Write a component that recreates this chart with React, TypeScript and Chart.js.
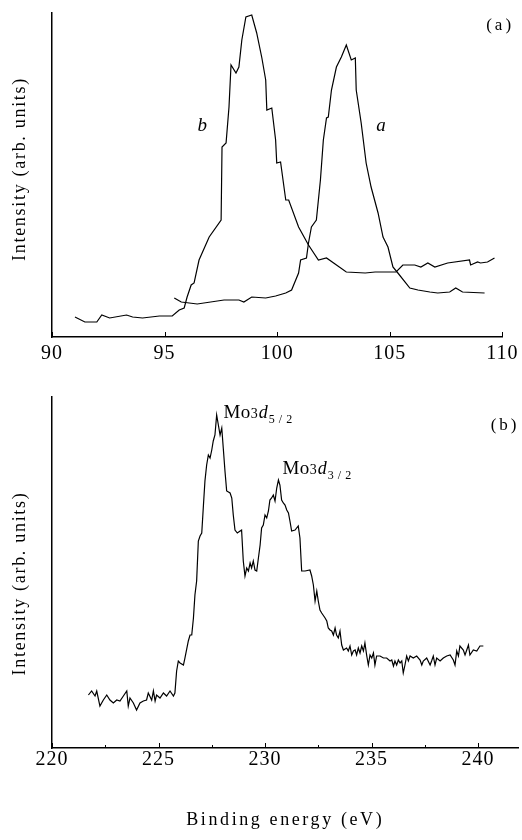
import { useEffect, useRef } from "react";
import { Chart, registerables } from "chart.js";

Chart.register(...registerables);

const SERIF = '"Liberation Serif", "Times New Roman", serif';

// ---- Panel (a): tick labels ----
const topTicks = [90, 95, 100, 105, 110];
// ---- Panel (b): tick labels ----
const bottomTicks = [220, 225, 230, 235, 240];
const bottomMinorTicks = [222.5, 227.5, 232.5, 237.5];

// ---- axis titles ----
const yTitle = "Intensity (arb. units)";
const xTitle = "Binding energy (eV)";

// ---- Panel (a), curve a ----
const curveAEnergy = [
  95.43, 95.74, 96.45, 97.64, 98.3, 98.52, 98.87, 99.49, 99.93, 100.38, 100.64, 100.95, 101.04, 101.3,
  101.39, 101.52, 101.74, 101.92, 102.05, 102.19, 102.27, 102.41, 102.63, 102.85, 103.07, 103.29, 103.47,
  103.51, 103.73, 103.95, 104.17, 104.48, 104.7, 104.92, 105.14, 105.36, 105.89, 106.25, 106.78, 107.13,
  107.66, 107.93, 108.23, 109.21,
];
const curveAIntensity = [
  39, 35, 33, 37, 37, 35, 40, 39, 41, 44, 47, 64, 77, 79,
  94, 110, 117, 157, 197, 219, 220, 247, 270, 280, 292, 277, 279,
  247, 214, 174, 150, 124, 100, 90, 70, 64, 49, 47, 45, 44,
  45, 49, 45, 44,
];

// ---- Panel (a), curve b ----
const curveBEnergy = [
  91.02, 91.46, 91.99, 92.21, 92.56, 93.31, 93.58, 94.02, 94.77, 95.34, 95.65, 95.87, 96.0, 96.18, 96.31,
  96.53, 96.98, 97.51, 97.55, 97.73, 97.86, 97.95, 98.17, 98.3, 98.43, 98.61, 98.87, 99.09, 99.32, 99.49,
  99.54, 99.76, 99.93, 99.98, 100.15, 100.38, 100.51, 100.95, 101.39, 101.83, 102.19, 103.07, 103.91,
  104.35, 105.28, 105.58, 106.11, 106.38, 106.69, 107.0, 107.57, 108.54, 108.59, 108.9, 109.03, 109.34,
  109.65,
];
const curveBIntensity = [
  20, 15, 15, 22, 19, 22, 20, 19, 21, 21, 27, 29, 40, 52, 54,
  77, 100, 117, 190, 194, 230, 272, 264, 270, 297, 320, 322, 304, 279, 257,
  227, 229, 197, 174, 175, 137, 137, 110, 92, 77, 79, 65, 64,
  65, 65, 72, 72, 70, 74, 70, 74, 77, 72, 75, 74, 75,
  79,
];

// ---- Panel (b), Mo 3d spectrum ----
const moEnergy = [
  221.71, 221.86, 222.02, 222.1, 222.25, 222.41, 222.57, 222.72, 222.88, 223.04, 223.19, 223.35, 223.51,
  223.58, 223.66, 223.82, 223.97, 224.13, 224.29, 224.44, 224.52, 224.68, 224.76, 224.84, 224.91, 225.07,
  225.23, 225.38, 225.54, 225.7, 225.77, 225.85, 225.93, 226.01, 226.17, 226.24, 226.4, 226.48, 226.56,
  226.64, 226.71, 226.79, 226.87, 226.95, 227.03, 227.11, 227.18, 227.26, 227.34, 227.42, 227.5, 227.57,
  227.65, 227.73, 227.81, 227.89, 227.97, 228.04, 228.12, 228.2, 228.36, 228.44, 228.51, 228.59, 228.7,
  228.83, 228.9, 228.98, 229.06, 229.14, 229.22, 229.3, 229.37, 229.45, 229.53, 229.61, 229.69, 229.77,
  229.84, 229.92, 230.0, 230.08, 230.16, 230.23, 230.31, 230.39, 230.47, 230.55, 230.63, 230.7, 230.78,
  230.86, 230.94, 231.02, 231.1, 231.17, 231.25, 231.41, 231.56, 231.64, 231.72, 231.88, 232.11, 232.19,
  232.27, 232.35, 232.43, 232.5, 232.58, 232.66, 232.82, 232.9, 232.97, 233.05, 233.13, 233.21, 233.29,
  233.36, 233.44, 233.52, 233.6, 233.68, 233.83, 233.91, 233.99, 234.07, 234.15, 234.23, 234.3, 234.38,
  234.46, 234.54, 234.62, 234.69, 234.77, 234.85, 234.93, 235.01, 235.09, 235.16, 235.24, 235.4, 235.56,
  235.71, 235.87, 235.95, 236.03, 236.1, 236.18, 236.26, 236.34, 236.42, 236.49, 236.57, 236.65, 236.73,
  236.81, 236.96, 237.12, 237.28, 237.36, 237.43, 237.59, 237.75, 237.82, 237.9, 237.98, 238.06, 238.22,
  238.37, 238.53, 238.69, 238.84, 238.92, 239.0, 239.08, 239.15, 239.31, 239.39, 239.47, 239.55, 239.62,
  239.78, 239.94, 240.09, 240.25,
];
const moIntensity = [
  53, 57, 52, 57, 42, 48, 53, 48, 45, 48, 47, 52, 57,
  42, 50, 45, 38, 45, 47, 48, 55, 48, 57, 47, 53, 50,
  55, 52, 57, 52, 55, 77, 87, 85, 83, 90, 107, 113, 113,
  130, 153, 167, 207, 212, 215, 243, 267, 283, 293, 290, 298, 307,
  313, 333, 323, 313, 320, 300, 277, 257, 255, 250, 233, 218, 215,
  217, 218, 187, 172, 180, 177, 185, 180, 187, 178, 177, 190, 203,
  220, 223, 233, 230, 237, 248, 250, 253, 247, 260, 268, 263, 248,
  245, 243, 238, 235, 227, 217, 218, 222, 210, 177, 177, 178, 172,
  163, 147, 157, 147, 138, 135, 130, 127, 120, 118, 117, 113, 120,
  113, 110, 117, 103, 98, 100, 97, 102, 93, 97, 98, 93, 100,
  95, 102, 97, 105, 93, 83, 93, 90, 95, 83, 92, 92, 90,
  90, 87, 88, 82, 87, 83, 88, 85, 87, 75, 83, 92, 87,
  92, 90, 92, 88, 83, 87, 90, 83, 87, 92, 83, 90, 87,
  90, 92, 93, 88, 83, 97, 92, 102, 98, 93, 98, 103, 93,
  98, 97, 102, 102,
];

// ---- annotation anchors (data coordinates) ----
const topLabelText = ["b", "a", "(a)"];
const topLabelEnergy = [96.67, 104.61, 109.9];
const topLabelIntensity = [212, 212, 312];
const bottomPanelTag = "(b)";
const bottomPanelTagAt = [241.27, 323];
const moLabelSub = ["5/2", "3/2"];
const moLabelEnergy = [228.05, 230.82];
const moLabelIntensity = [336, 280];

type Part = { text: string; font: string; dy: number; gap?: number; spacing?: number };
type Ann = { x: number; y: number; align: "left" | "center"; parts: Part[] };

const toPoints = (xs: number[], ys: number[]) => xs.map((x, i) => ({ x, y: ys[i] }));

const setSpacing = (ctx: any, px: number) => {
  if ("letterSpacing" in ctx) ctx.letterSpacing = `${px}px`;
};

// widen the serif tick labels a little (Computer Modern digits are wider)
const tickSpacing = {
  id: "tickSpacing",
  beforeDraw(chart: any) {
    setSpacing(chart.ctx, 1);
  },
};

const inwardTicks = {
  id: "inwardTicks",
  afterDraw(chart: any, _args: any, opts: any) {
    const xs = chart.scales.x;
    const ctx = chart.ctx as CanvasRenderingContext2D;
    const y0 = chart.chartArea.bottom;
    ctx.save();
    ctx.strokeStyle = "#000";
    ctx.lineWidth = 1;
    const draw = (vals: number[], len: number) => {
      for (const v of vals) {
        const px = Math.round(xs.getPixelForValue(v)) + 0.5;
        ctx.beginPath();
        ctx.moveTo(px, y0);
        ctx.lineTo(px, y0 - len);
        ctx.stroke();
      }
    };
    draw(opts.major || [], 5);
    draw(opts.minor || [], 3);
    ctx.restore();
  },
};

const textAnnotations = {
  id: "textAnnotations",
  afterDraw(chart: any, _args: any, opts: any) {
    const ctx = chart.ctx as CanvasRenderingContext2D;
    const xs = chart.scales.x;
    const ys = chart.scales.y;
    const area = chart.chartArea;
    ctx.save();
    ctx.fillStyle = "#000";
    ctx.textBaseline = "alphabetic";
    for (const a of (opts.items || []) as Ann[]) {
      const px = xs.getPixelForValue(a.x);
      const py = ys.getPixelForValue(a.y);
      let total = 0;
      for (const p of a.parts) {
        ctx.font = p.font;
        setSpacing(ctx, p.spacing || 0);
        total += ctx.measureText(p.text).width + (p.gap || 0);
      }
      let cx = a.align === "center" ? px - total / 2 : px;
      for (const p of a.parts) {
        ctx.font = p.font;
        setSpacing(ctx, p.spacing || 0);
        ctx.textAlign = "left";
        ctx.fillText(p.text, cx, py + p.dy);
        cx += ctx.measureText(p.text).width + (p.gap || 0);
      }
    }
    // axis titles
    ctx.textBaseline = "middle";
    ctx.textAlign = "center";
    ctx.font = `18px ${SERIF}`;
    setSpacing(ctx, 1.7);
    ctx.save();
    ctx.translate(20, (area.top + area.bottom) / 2 + (opts.yTitleShift || 0));
    ctx.rotate(-Math.PI / 2);
    ctx.fillText(yTitle, 0, 0);
    ctx.restore();
    if (opts.xTitleY) {
      ctx.font = `18px ${SERIF}`;
      setSpacing(ctx, 2.6);
      ctx.fillText(xTitle, (xs.left + xs.right) / 2, opts.xTitleY);
    }
    setSpacing(ctx, 0);
    ctx.restore();
    setSpacing(ctx, 0);
  },
};

function moParts(sub: string): Part[] {
  return [
    { text: "Mo", font: `19px ${SERIF}`, dy: 6, spacing: 0.5 },
    { text: "3", font: `14px ${SERIF}`, dy: 6, gap: 1 },
    { text: "d", font: `italic 18px ${SERIF}`, dy: 6, gap: 1 },
    { text: sub, font: `12px ${SERIF}`, dy: 11, spacing: 4 },
  ];
}

function makeConfig(opts: {
  datasets: any[];
  min: number;
  max: number;
  ymax: number;
  ticks: number[];
  minor: number[];
  padTop: number;
  padRight: number;
  xHeight: number;
  tickPad: number;
  xTitleY?: number;
  yTitleShift: number;
  anns: Ann[];
}): any {
  return {
    type: "line",
    data: { datasets: opts.datasets },
    plugins: [tickSpacing, inwardTicks, textAnnotations],
    options: {
      responsive: false,
      animation: false,
      layout: { padding: { top: opts.padTop, right: opts.padRight, left: 0, bottom: 0 } },
      plugins: {
        legend: { display: false },
        tooltip: { enabled: false },
        inwardTicks: { major: opts.ticks, minor: opts.minor },
        textAnnotations: { items: opts.anns, xTitleY: opts.xTitleY, yTitleShift: opts.yTitleShift },
      },
      elements: { point: { radius: 0 }, line: { tension: 0 } },
      scales: {
        x: {
          type: "linear",
          min: opts.min,
          max: opts.max,
          afterBuildTicks: (scale: any) => {
            scale.ticks = opts.ticks.map((v) => ({ value: v }));
          },
          afterFit: (scale: any) => {
            scale.height = opts.xHeight;
          },
          ticks: {
            color: "#000",
            font: { family: SERIF, size: 20 },
            padding: opts.tickPad,
            maxRotation: 0,
            autoSkip: false,
            callback: (v: any) => String(v),
          },
          grid: { display: true, drawOnChartArea: false, drawTicks: false },
          border: { display: true, color: "#000", width: 1.5 },
          title: { display: false },
        },
        y: {
          type: "linear",
          min: 0,
          max: opts.ymax,
          afterFit: (scale: any) => {
            scale.width = 52;
          },
          ticks: { display: false },
          grid: { display: true, drawOnChartArea: false, drawTicks: false },
          border: { display: true, color: "#000", width: 1.5 },
          title: { display: false },
        },
      },
    },
  };
}

const lineStyle = { borderColor: "#000", borderWidth: 1.2, pointRadius: 0, fill: false };

export default function App() {
  const topRef = useRef<HTMLCanvasElement | null>(null);
  const botRef = useRef<HTMLCanvasElement | null>(null);

  useEffect(() => {
    if (!topRef.current || !botRef.current) return;
    const topAnns: Ann[] = [
      { x: topLabelEnergy[0], y: topLabelIntensity[0], align: "center", parts: [{ text: topLabelText[0], font: `italic 19px ${SERIF}`, dy: 6 }] },
      { x: topLabelEnergy[1], y: topLabelIntensity[1], align: "center", parts: [{ text: topLabelText[1], font: `italic 19px ${SERIF}`, dy: 6 }] },
      { x: topLabelEnergy[2], y: topLabelIntensity[2], align: "center", parts: [{ text: topLabelText[2], font: `17px ${SERIF}`, dy: 5, spacing: 3 }] },
    ];
    const botAnns: Ann[] = [
      { x: moLabelEnergy[0], y: moLabelIntensity[0], align: "left", parts: moParts(moLabelSub[0]) },
      { x: moLabelEnergy[1], y: moLabelIntensity[1], align: "left", parts: moParts(moLabelSub[1]) },
      { x: bottomPanelTagAt[0], y: bottomPanelTagAt[1], align: "center", parts: [{ text: bottomPanelTag, font: `17px ${SERIF}`, dy: 5, spacing: 3 }] },
    ];
    const top = new Chart(
      topRef.current,
      makeConfig({
        datasets: [
          { label: "a", data: toPoints(curveAEnergy, curveAIntensity), ...lineStyle },
          { label: "b", data: toPoints(curveBEnergy, curveBIntensity), ...lineStyle },
        ],
        min: 90,
        max: 110,
        ymax: 324,
        ticks: topTicks,
        minor: [],
        padTop: 13,
        padRight: 17,
        xHeight: 43,
        tickPad: 5,
        yTitleShift: -6,
        anns: topAnns,
      })
    );
    const bot = new Chart(
      botRef.current,
      makeConfig({
        datasets: [{ label: "Mo 3d", data: toPoints(moEnergy, moIntensity), ...lineStyle }],
        min: 220,
        max: 241.9,
        ymax: 351,
        ticks: bottomTicks,
        minor: bottomMinorTicks,
        padTop: 17,
        padRight: 3.5,
        xHeight: 92,
        tickPad: 0,
        xTitleY: 440,
        yTitleShift: 11,
        anns: botAnns,
      })
    );
    return () => {
      top.destroy();
      bot.destroy();
    };
  }, []);

  return (
    <div style={{ position: "absolute", left: 0, top: 0, width: 522, height: 840, background: "#fff" }}>
      <canvas ref={topRef} width={522} height={380} style={{ position: "absolute", left: 0, top: 0 }} />
      <canvas ref={botRef} width={522} height={460} style={{ position: "absolute", left: 0, top: 380 }} />
    </div>
  );
}
